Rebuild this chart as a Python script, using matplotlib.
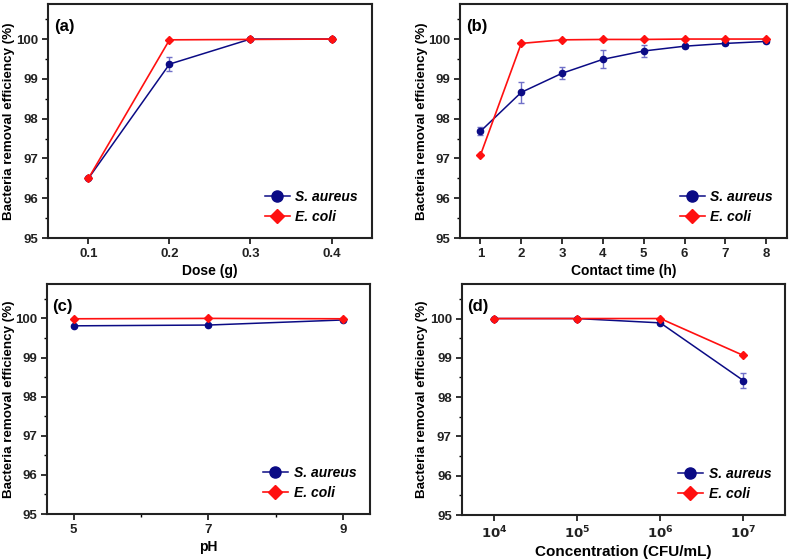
import numpy as np
import matplotlib
matplotlib.use("Agg")
import matplotlib.pyplot as plt
from matplotlib.lines import Line2D
from matplotlib.ticker import MultipleLocator, FixedLocator, NullLocator

plt.rcParams['font.family'] = ['Liberation Sans', 'DejaVu Sans']
plt.rcParams['font.weight'] = 'bold'
plt.rcParams['mathtext.default'] = 'bf'

# (a) dose
dose = [0.1, 0.2, 0.3, 0.4]
dose_sa = [96.5, 99.37, 100.0, 100.0]
dose_sa_err = [0.0, 0.17, 0.0, 0.0]
dose_ec = [96.5, 99.98, 99.99, 100.0]

# (b) contact time
time_h = [1, 2, 3, 4, 5, 6, 7, 8]
time_sa = [97.68, 98.66, 99.14, 99.49, 99.70, 99.82, 99.89, 99.94]
time_sa_err = [0.1, 0.26, 0.15, 0.23, 0.16, 0.05, 0.04, 0.03]
time_ec = [97.08, 99.89, 99.98, 99.99, 99.99, 100.0, 100.0, 100.0]

# (c) pH
ph = [5, 7, 9]
ph_sa = [99.81, 99.83, 99.96]
ph_sa_err = [0.02, 0.02, 0.01]
ph_ec = [99.99, 100.0, 99.99]

# (d) concentration
conc = [1e4, 1e5, 1e6, 1e7]
conc_sa = [100.0, 100.0, 99.89, 98.42]
conc_sa_err = [0.0, 0.0, 0.03, 0.19]
conc_ec = [100.0, 100.0, 100.0, 99.06]

navy = '#0b0b85'
red = '#ff1010'
errc = '#7070c8'

fig = plt.figure(figsize=(7.89, 5.59), dpi=100)

# rect, x, S. aureus, error, E. coli, x label, tag, y label x offset
panels = [
    ([0.0608, 0.5742, 0.4107, 0.4186], dose, dose_sa, dose_sa_err, dose_ec, 'Dose (g)', '(a)', -0.102),
    ([0.583, 0.5742, 0.414, 0.4186], time_h, time_sa, time_sa_err, time_ec, 'Contact time (h)', '(b)', -0.097),
    ([0.0592, 0.0805, 0.4098, 0.4115], ph, ph_sa, ph_sa_err, ph_ec, 'pH', '(c)', -0.098),
    ([0.585, 0.0787, 0.410, 0.4133], conc, conc_sa, conc_sa_err, conc_ec, 'Concentration (CFU/mL)', '(d)', -0.103),
]

for i, (rect, x, sa, sa_err, ec, xlabel, tag, ylx) in enumerate(panels):
    ax = fig.add_axes(rect)
    ax.errorbar(x, sa, yerr=sa_err, color=navy, ecolor=errc, elinewidth=1.0,
                capsize=2, capthick=1.0, marker='o', markersize=4.5, lw=1.1,
                zorder=2)
    ax.plot(x, ec, color=red, marker='D', markersize=4.5, lw=1.2, zorder=3)
    ax.set_ylim(95, 100.88)
    ax.yaxis.set_major_locator(MultipleLocator(1))
    ax.yaxis.set_minor_locator(MultipleLocator(0.5))
    if i == 0:
        ax.set_xlim(0.05, 0.45)
        ax.set_xticks(dose)
        ax.set_xticklabels(['0.1', '0.2', '0.3', '0.4'])
    elif i == 1:
        ax.set_xlim(0.5, 8.5)
        ax.set_xticks(time_h)
    elif i == 2:
        ax.set_xlim(4.6, 9.4)
        ax.set_xticks(ph)
        ax.xaxis.set_minor_locator(FixedLocator([6, 8]))
    else:
        ax.set_xscale('log')
        ax.set_xlim(10 ** 3.61, 10 ** 7.5)
        ax.set_xticks(conc)
        ax.set_xticklabels([r'$\mathbf{10^{%d}}$' % k for k in range(4, 8)])
        ax.xaxis.set_minor_locator(NullLocator())
    ax.set_yticks([95, 96, 97, 98, 99, 100])
    ax.set_yticklabels(['95', '96', '97', '98', '99', '100'])
    for s in ax.spines.values():
        s.set_linewidth(1.5)
        s.set_color('#222222')
    ax.tick_params(which='major', direction='out', length=4, width=1.3,
                   labelsize=9.5, colors='#222222', pad=3)
    ax.tick_params(which='minor', direction='out', length=2.5, width=1.0)
    for lab in ax.get_xticklabels() + ax.get_yticklabels():
        lab.set_fontweight('bold')
    ax.set_xlabel(xlabel, fontsize=11 if i == 3 else 10, fontweight='bold', labelpad=3)
    ax.set_ylabel('Bacteria removal efficiency (%)', fontsize=9.6, fontweight='bold')
    ax.yaxis.set_label_coords(ylx, 0.5)
    ax.text(0.018, 0.935, tag, transform=ax.transAxes, fontsize=12,
            fontweight='bold', va='top', ha='left')
    handles = [
        Line2D([], [], color=navy, marker='o', markersize=8, lw=1.1),
        Line2D([], [], color=red, marker='D', markersize=7.5, lw=1.2),
    ]
    ax.legend(handles, ['S. aureus', 'E. coli'], loc='lower right', frameon=False,
              handlelength=1.8, handletextpad=0.4, borderaxespad=0.6,
              labelspacing=0.45,
              prop={'weight': 'bold', 'style': 'italic', 'size': 10})

fig.savefig('out.png', dpi=100)
